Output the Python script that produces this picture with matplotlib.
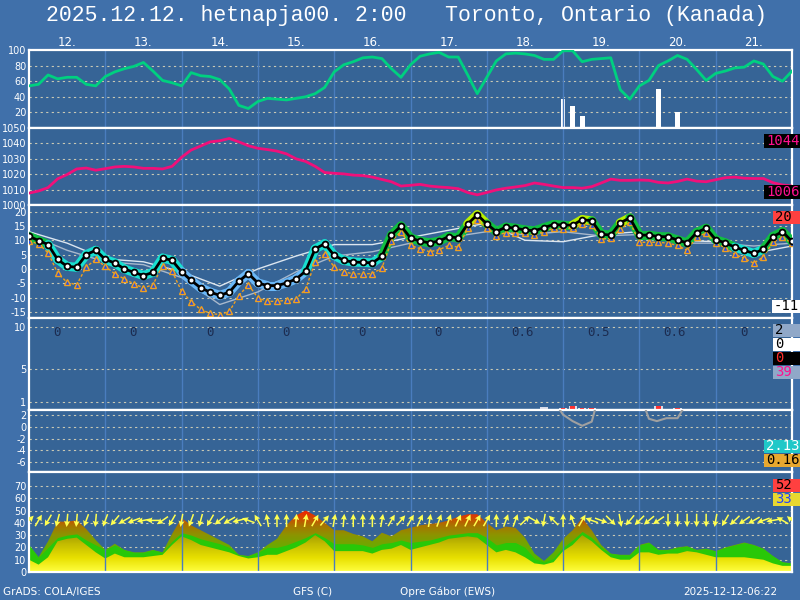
import numpy as np
import matplotlib
matplotlib.use('Agg')
import matplotlib.pyplot as plt
from matplotlib.colors import LinearSegmentedColormap, ListedColormap, BoundaryNorm
from matplotlib.collections import LineCollection
from matplotlib.patches import PathPatch, Rectangle
from matplotlib.path import Path

# time axis: 3-hourly steps, 10 days
hours = np.arange(0, 241, 3)
hours12 = np.arange(0, 241, 12)
days = ['12.', '13.', '14.', '15.', '16.', '17.', '18.', '19.', '20.', '21.']

humidity = [54, 56, 68, 63, 65, 65, 56, 54, 66, 72, 76, 79, 84, 73, 61, 58, 54, 71, 67, 66,
            62, 50, 29, 25, 34, 38, 37, 36, 38, 40, 44, 52, 72, 81, 85, 90, 91, 89, 76, 65,
            81, 92, 95, 97, 91, 91, 68, 44, 65, 86, 95, 96, 95, 93, 88, 88, 99, 99, 85, 88,
            89, 90, 49, 37, 54, 61, 80, 86, 93, 88, 75, 61, 70, 73, 77, 78, 86, 82, 66, 60, 73]
cloud_h = [168, 171, 174, 198, 204]
cloud_v = [37, 28, 16, 50, 20]

pressure = [1007.7, 1009.1, 1011.3, 1017.0, 1019.8, 1023.4, 1024.0, 1022.6, 1023.6, 1024.7,
            1025.1, 1024.7, 1023.8, 1023.8, 1023.4, 1025.1, 1031.0, 1035.7, 1038.3, 1041.0,
            1041.7, 1043.2, 1041.0, 1038.5, 1036.8, 1036.0, 1035.0, 1033.2, 1030.0, 1028.3,
            1025.1, 1021.1, 1020.6, 1020.2, 1019.4, 1019.1, 1018.1, 1016.6, 1015.1, 1012.3,
            1012.8, 1013.4, 1012.3, 1011.7, 1011.3, 1010.6, 1008.1, 1006.6, 1008.1, 1009.8,
            1010.9, 1011.7, 1012.6, 1014.3, 1013.4, 1012.3, 1011.3, 1011.3, 1010.9, 1011.9,
            1014.3, 1016.8, 1016.0, 1016.0, 1016.2, 1016.0, 1014.7, 1014.3, 1015.3, 1016.8,
            1015.5, 1015.1, 1016.4, 1017.7, 1018.1, 1017.4, 1017.2, 1017.2, 1014.5, 1013.0, 1012.3]

temp = [11.4, 9.9, 8.5, 3.3, 0.9, 0.6, 5.0, 6.5, 3.3, 2.1, 0.0, -1.2, -2.3, -1.2, 3.8, 3.0,
        -1.0, -4.0, -6.6, -8.1, -9.2, -8.1, -4.3, -1.6, -4.9, -5.8, -5.8, -4.9, -3.5, -0.8,
        7.0, 8.8, 4.7, 3.0, 2.4, 2.3, 2.1, 4.4, 11.8, 15.0,
        10.8, 9.7, 9.1, 9.7, 11.3, 10.8, 15.7, 18.9, 15.7, 13.0, 14.6, 14.2, 13.6, 13.3,
        14.4, 15.5, 15.3, 15.3, 17.2, 16.8, 12.1, 11.8, 16.1, 17.8, 11.8, 11.8, 11.3, 11.2,
        10.1, 9.1, 12.7, 14.2, 10.2, 9.1, 7.6, 6.5, 5.4, 6.9, 11.3, 13.0, 9.6]
dewpoint = [9.7, 8.8, 5.6, -1.4, -4.7, -5.5, 0.7, 3.3, 0.9, -1.7, -3.5, -5.2, -6.6, -5.5,
            1.2, -0.8, -7.8, -11.4, -14.1, -15.5, -15.9, -14.8, -9.3, -5.5, -10.1, -11.3,
            -11.3, -10.9, -10.5, -7.0, 2.3, 5.3, 0.7, -1.0, -1.7, -1.7, -1.6, 0.3, 9.7, 13.0,
            8.2, 7.1, 6.0, 6.7, 8.2, 7.6, 14.2, 17.2, 14.4, 11.6, 12.7, 12.4, 12.4, 12.0,
            13.0, 14.2, 14.0, 14.2, 15.7, 15.5, 10.4, 10.7, 13.8, 16.4, 9.3, 9.3, 9.3, 9.0,
            8.2, 6.5, 11.2, 12.5, 9.0, 7.4, 5.1, 3.7, 2.0, 4.3, 9.3, 11.0, 9.0]
line_a = [13, 9, 3.5, 2.5, -1, -6, 0, 4.5, 8.5, 8.5, 11, 13.5, 16, 10, 9.5, 12, 13, 10, 9.5, 5.5, 8]
line_b = [12, 6.5, 2.5, 1.5, -3, -12.4, -8, -1, 4.5, 6, 9, 11, 13, 12, 13, 11.5, 12, 9, 9, 8, 9]

prec_day = ['0', '0', '0', '0', '0', '0', '0.6', '0.5', '0.6', '0']
prec_h = [159, 162, 168, 171, 174, 177, 198, 204]
prec_v = [0.1, 0.35, 0.3, 0.45, 0.25, 0.25, 0.5, 0.2]
prec_red = [0, 0, 0.25, 0.3, 0.1, 0.1, 0.4, 0.15]

snow_h1 = [167, 168, 171, 174, 177, 178]
snow_v1 = [2.9, 2.1, 1.0, 0.2, 0.9, 2.9]
snow_h2 = [194, 195, 197.5, 200.5, 204, 205.5]
snow_v2 = [2.9, 1.4, 1.0, 1.5, 1.5, 2.9]

wind = [10, 6, 12, 25, 27, 28, 22, 16, 11, 15, 12, 12, 12, 13, 14, 22, 29, 26, 22, 20,
        18, 16, 13, 11, 12, 14, 14, 17, 20, 24, 30, 25, 17, 17, 17, 17, 15, 18, 19, 22,
        18, 20, 22, 24, 27, 28, 29, 28, 22, 16, 18, 16, 12, 7, 6, 8, 17, 22, 30, 25,
        18, 12, 10, 10, 16, 16, 14, 15, 15, 17, 16, 14, 12, 12, 12, 12, 11, 10, 7, 5, 5]
wind850 = [22, 12, 20, 28, 30, 31, 26, 22, 18, 22, 18, 16, 16, 18, 16, 25, 32, 30, 27, 25,
           23, 20, 14, 13, 16, 20, 20, 22, 25, 28, 32, 28, 23, 23, 23, 22, 20, 23, 24, 26,
           24, 25, 26, 28, 30, 31, 32, 32, 28, 22, 24, 24, 20, 11, 8, 11, 20, 26, 33, 28,
           20, 15, 14, 14, 22, 24, 18, 18, 20, 21, 18, 19, 17, 20, 22, 24, 22, 19, 13, 8, 7]
gust = [22, 12, 25, 41, 41, 42, 35, 26, 18, 23, 18, 16, 16, 18, 16, 31, 44, 38, 34, 30,
        26, 22, 14, 13, 16, 22, 27, 38, 46, 50, 46, 40, 34, 34, 31, 29, 25, 32, 29, 34,
        36, 38, 39, 40, 42, 45, 47, 47, 40, 34, 37, 36, 28, 15, 9, 16, 27, 34, 44, 34,
        22, 15, 14, 14, 22, 24, 18, 18, 20, 21, 18, 19, 17, 20, 22, 24, 22, 19, 13, 8, 7]
wind_dir = [45, 60, 240, 255, 265, 265, 250, 265, 250, 230, 210, 200, 190, 180, 215, 240,
            260, 250, 255, 240, 220, 210, 195, 160, 120, 100, 90, 90, 85, 80, 60, 50, 80,
            85, 90, 90, 90, 80, 60, 50,
            60, 65, 80, 70, 70, 65, 65, 60, 60, 90, 70, 70, 45, -30, 260, 135, 90, 110, 60,
            160, -20, -45, -80, 230, 225, 220, 215, 270, 270, 270, 270, 270, 260, 240, 225,
            215, 210, 200, 190, 150, 140]

BG = '#4070aa'
BG_IN = '#366496'
DAYLINE = '#4a7dbe'
GRID = '#c8c8b4'

fig = plt.figure(figsize=(8, 6), dpi=100, facecolor=BG)


def panel(top, bottom, ylim, ticks, grid):
    ax = fig.add_axes([29 / 800, 1 - bottom / 600, 763 / 800, (bottom - top) / 600])
    ax.set_facecolor(BG_IN)
    ax.set_xlim(0, 240)
    ax.set_ylim(*ylim)
    ax.set_xticks([])
    ax.set_yticks(ticks)
    ax.set_yticklabels([str(t) for t in ticks], color='white', fontsize=7)
    ax.tick_params(axis='y', length=0, pad=2)
    for g in grid:
        ax.axhline(g, color=GRID, lw=0.8, ls=(0, (2, 3)), zorder=1)
    for d in range(24, 240, 24):
        ax.axvline(d, color=DAYLINE, lw=1, zorder=2.5)
    for s in ax.spines.values():
        s.set_color('white')
        s.set_linewidth(1.6)
    return ax


def gradient(ax, x, top, cmap, vmax, ymax, z):
    verts = np.column_stack([np.r_[x, x[::-1]], np.r_[top, np.zeros(len(top))]])
    patch = PathPatch(Path(verts), facecolor='none', edgecolor='none', transform=ax.transData)
    ax.add_patch(patch)
    grad = np.linspace(0, ymax, 256).reshape(-1, 1)
    im = ax.imshow(grad, extent=[0, 240, 0, ymax], origin='lower', aspect='auto',
                   cmap=cmap, vmin=0, vmax=vmax, zorder=z, interpolation='bilinear')
    im.set_clip_path(patch)


def side_label(ypix, text, fg, bg):
    w = max(27, 8 * len(text) + 4)
    fig.patches.append(Rectangle((1 - w / 800, 1 - (ypix + 6.5) / 600), w / 800, 13 / 600,
                                 transform=fig.transFigure, facecolor=bg, edgecolor='none', zorder=10))
    fig.text(1 - (w - 2) / 800, 1 - ypix / 600, text, color=fg, fontsize=10,
             family='DejaVu Sans Mono', va='center', ha='left', zorder=11)


# title and day names
fig.text(407 / 800, 1 - 16 / 600, '2025.12.12. hetnapja00. 2:00   Toronto, Ontario (Kanada)',
         color='white', fontsize=15.5, family='Liberation Mono', ha='center', va='center')

# humidity
ax1 = panel(50, 128, (0, 100), [20, 40, 60, 80, 100], [20, 40, 60, 80])
ax1.bar(cloud_h, cloud_v, width=1.5, color='white', zorder=2)
ax1.plot(hours, humidity, color='#00d080', lw=2, zorder=3)
for k, d in enumerate(days):
    ax1.text(12 + 24 * k, 1.1, d, transform=ax1.get_xaxis_transform(), color='white',
             fontsize=8.5, ha='center', va='center', clip_on=False)

# pressure
ax2 = panel(128, 205, (1000, 1050), [1000, 1010, 1020, 1030, 1040, 1050], [1010, 1020, 1030, 1040])
ax2.plot(hours, pressure, color='#f0107a', lw=2, zorder=3)

# temperature
ax3 = panel(205, 318, (-17.1, 22.3), [-15, -10, -5, 0, 5, 10, 15, 20], [-15, -10, -5, 0, 5, 10, 15, 20])
ax3.plot(hours12, line_a, color='#dce6f0', lw=1, zorder=3)
ax3.plot(hours12, line_b, color='#a8b8cc', lw=1, zorder=3)
pts = np.column_stack([hours, temp])
segs = np.stack([pts[:-1], pts[1:]], axis=1)
band_cmap = ListedColormap(['#6ab8f8', '#18e0d0', '#10c040', '#b8f000'])
band_norm = BoundaryNorm([-30, -2, 8, 16, 40], band_cmap.N)
mid = (np.array(temp[:-1]) + np.array(temp[1:])) / 2
band = LineCollection(segs, colors=band_cmap(band_norm(mid)), linewidths=6.5, zorder=3,
                      capstyle='round')
ax3.add_collection(band)
ax3.plot(hours, dewpoint, color='#f0a020', lw=1, ls=(0, (2, 1.5)), marker='^', ms=4.5,
         mfc='#2850e0', mec='#f0a020', mew=1, zorder=4)
ax3.plot(hours, temp, color='black', lw=2, marker='o', ms=4.2, mfc='white', mec='black',
         mew=1.3, zorder=5)

# precipitation
ax4 = panel(318, 410, (0, 11.1), [1, 5, 10], [1, 5, 10])
ax4.bar(prec_h, prec_v, width=2.6, color='#d8dce8', zorder=2)
ax4.bar(prec_h, prec_red, width=1.4, bottom=np.array(prec_v) - np.array(prec_red),
        color='#ff3030', zorder=3)
for k, p in enumerate(prec_day):
    ax4.text(12 + 24 * k - 4.4, 9.3, p, color='#1c2c50', fontsize=9, family='DejaVu Sans Mono',
             ha='left', va='center')

# snow / misc panel
ax5 = panel(410, 472, (-7.7, 2.9), [-6, -4, -2, 0, 2], [-6, -4, -2, 0, 2])
ax5.plot(snow_h1, snow_v1, color='#a0a0a0', lw=1.5, zorder=3)
ax5.plot(snow_h2, snow_v2, color='#a0a0a0', lw=1.5, zorder=3)

# wind
ax6 = panel(472, 572, (0, 81.4), [0, 10, 20, 30, 40, 50, 60, 70], [10, 20, 30, 40, 50, 60, 70])
gust_cmap = LinearSegmentedColormap.from_list(
    'gust', [(0, '#40c000'), (0.38, '#68ac00'), (0.58, '#8c9400'), (0.73, '#a87400'),
             (0.87, '#d84000'), (1, '#ff1800')])
yel_cmap = LinearSegmentedColormap.from_list(
    'yel', ['#ffff40', '#e8e000', '#c4bc00', '#989000'])
gradient(ax6, hours, gust, gust_cmap, 52, 81.4, 2)
ax6.fill_between(hours, 0, wind850, color='#28c808', lw=0, zorder=2.2)
gradient(ax6, hours, wind, yel_cmap, 34, 81.4, 2.4)
rad = np.deg2rad(wind_dir)
ax6.quiver(hours, np.full(len(hours), 42), np.cos(rad), np.sin(rad), angles='uv',
           pivot='middle', color='#ffff50', scale=7.5, scale_units='inches',
           width=0.002, headwidth=4, headlength=4, headaxislength=3.5, zorder=6)
for ax in (ax1, ax2, ax3, ax4, ax5, ax6):
    ax.set_xlim(0, 240)
ax6.set_ylim(0, 81.4)

# value boxes on the right
side_label(141, '1044', '#ff1090', 'black')
side_label(192, '1006', '#ff1090', 'black')
side_label(217, '20', 'black', '#ff4040')
side_label(306, '-11', 'black', 'white')
side_label(330, '2', 'black', '#90a8c8')
side_label(344, '0', 'black', 'white')
side_label(358, '0', '#ff3030', 'black')
side_label(372, '39', '#ff1090', '#90a8c8')
side_label(446, '2.13', 'white', '#20c8c8')
side_label(460, '0.16', 'black', '#e8a830')
side_label(485, '52', 'black', '#ff4040')
side_label(499, '33', '#2040ff', '#e8d830')

# footer
foot = dict(color='white', fontsize=7.5, va='center', ha='left')
fig.text(3 / 800, 1 - 592 / 600, 'GrADS: COLA/IGES', **foot)
fig.text(293 / 800, 1 - 592 / 600, 'GFS (C)', **foot)
fig.text(400 / 800, 1 - 592 / 600, 'Opre Gábor (EWS)', **foot)
fig.text(683 / 800, 1 - 592 / 600, '2025-12-12-06:22', **foot)

fig.savefig('out.png', dpi=100, facecolor=BG)
